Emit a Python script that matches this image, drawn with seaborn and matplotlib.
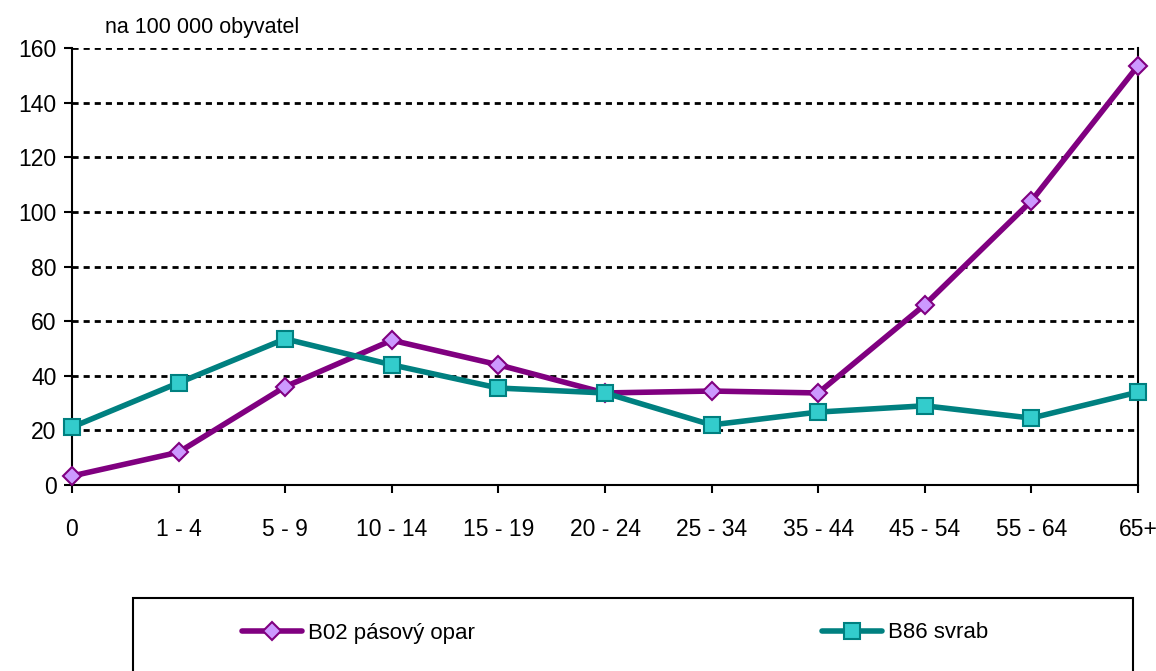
import numpy as np
import pandas as pd
import matplotlib
matplotlib.use("Agg")
import matplotlib.pyplot as plt
import seaborn as sns
from matplotlib.patches import Rectangle

# data
ages = ["0", "1 - 4", "5 - 9", "10 - 14", "15 - 19", "20 - 24",
        "25 - 34", "35 - 44", "45 - 54", "55 - 64", "65+"]
b02_pasovy_opar = [3.3, 12.0, 36.0, 53.0, 44.0, 33.7, 34.4, 33.7, 66.0, 104.0, 153.5]
b86_svrab = [21.2, 37.4, 53.5, 44.0, 35.5, 33.7, 22.0, 26.7, 29.0, 24.5, 34.0]
series_names = ["B02 pásový opar", "B86 svrab"]
y_ticks = [0, 20, 40, 60, 80, 100, 120, 140, 160]

sns.set_theme(style="white")
plt.rcParams['font.family'] = ['Liberation Sans Narrow', 'Liberation Sans', 'DejaVu Sans']
plt.rcParams['text.color'] = 'black'

fig = plt.figure(figsize=(11.56, 6.71), dpi=100)
ax = fig.add_axes([72 / 1156, 1 - 485 / 671, 1066 / 1156, 437 / 671])

pos = np.arange(len(ages))
df = pd.DataFrame({"pos": np.concatenate([pos, pos]),
                   "val": b02_pasovy_opar + b86_svrab,
                   "serie": [series_names[0]] * len(ages) + [series_names[1]] * len(ages)})

styles = {
    series_names[0]: dict(color="#800080", marker="D", mfc="#CC99FF", mec="#800080", ms=9),
    series_names[1]: dict(color="#008080", marker="s", mfc="#33CCCC", mec="#008080", ms=11),
}

for name in series_names:
    st = styles[name]
    sub = df[df["serie"] == name]
    sns.lineplot(data=sub, x="pos", y="val", ax=ax, color=st["color"], lw=4,
                 marker=st["marker"], markersize=st["ms"], markerfacecolor=st["mfc"],
                 markeredgecolor=st["mec"], markeredgewidth=1.5, label=name,
                 legend=False, zorder=3, clip_on=False)

# mřížka
for yv in y_ticks[1:]:
    ax.axhline(yv, color="black", lw=2, dashes=(2.2, 1.8), zorder=1)

ax.set_xlim(0, len(ages) - 1)
ax.set_ylim(0, 160)
ax.set_xticks(pos)
ax.set_xticklabels(ages)
ax.set_yticks(y_ticks)
ax.set_xlabel("")
ax.set_ylabel("")
ax.tick_params(axis="both", direction="out", length=6, width=1.5, color="black",
               labelsize=16.5, labelcolor="black", bottom=True, left=True)
ax.tick_params(axis="x", pad=18)
ax.tick_params(axis="y", pad=5)
for s in ["left", "bottom", "right"]:
    ax.spines[s].set_color("black")
    ax.spines[s].set_linewidth(1.5)
ax.spines["top"].set_visible(False)

fig.text(105 / 1156, 1 - 27 / 671, "na 100 000 obyvatel", fontsize=15.5,
         va="center", ha="left", color="black")

# legenda
fig.patches.append(Rectangle((133 / 1156, -0.05), 1000 / 1156, 0.05 + (671 - 598) / 671,
                             transform=fig.transFigure, fill=False, edgecolor="black", lw=1.5))
handles, labels = ax.get_legend_handles_labels()
fig.legend(handles, labels, loc="center left", bbox_to_anchor=(222 / 1156, 1 - 633 / 671),
           ncol=2, frameon=False, fontsize=16, handlelength=2.7, handletextpad=0.25,
           columnspacing=15.65, labelcolor="black")

fig.savefig("out.png", dpi=100)
